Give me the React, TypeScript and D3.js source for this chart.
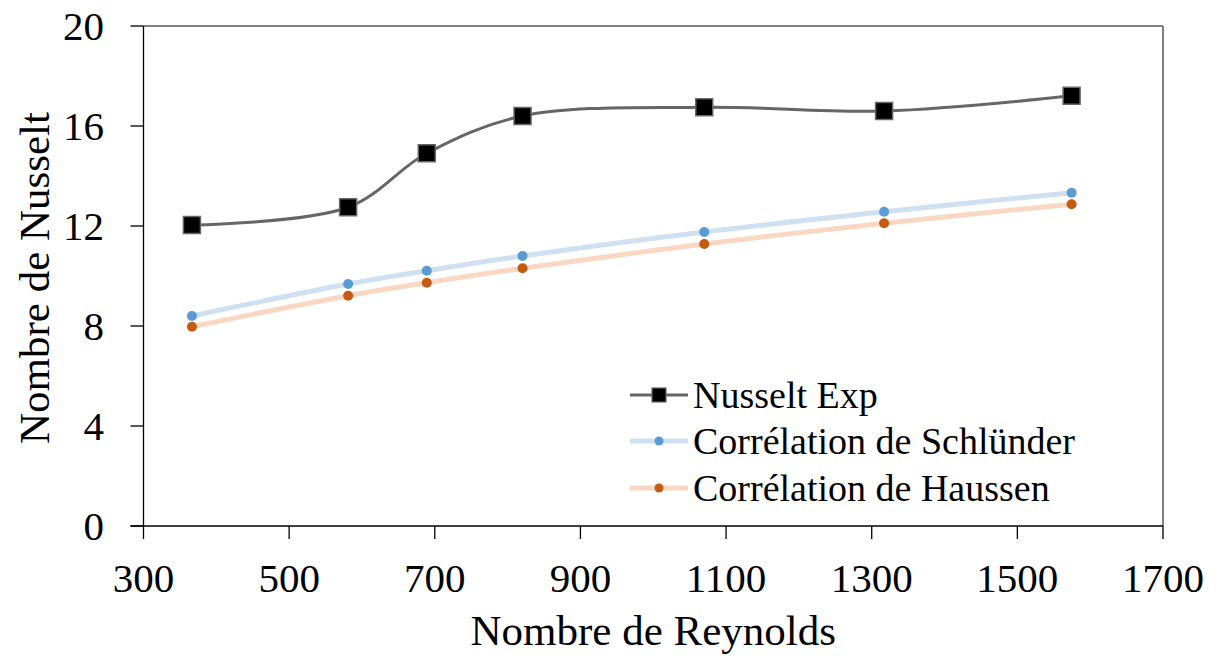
import React from "react";
import * as d3 from "d3";

const reynolds = [366.5, 581, 689, 820.5, 1070, 1317, 1574.5];
const nusseltExp = [12.04, 12.75, 14.91, 16.4, 16.75, 16.6, 17.21];
const schlunder = [8.4, 9.68, 10.21, 10.8, 11.76, 12.57, 13.33];
const haussen = [7.97, 9.21, 9.73, 10.31, 11.28, 12.11, 12.87];
const xTicks = [300, 500, 700, 900, 1100, 1300, 1500, 1700];
const yTicks = [0, 4, 8, 12, 16, 20];
const seriesNames = ["Nusselt Exp", "Corrélation de Schlünder", "Corrélation de Haussen"];

const W = 1220;
const H = 657;
const left = 143.5;
const right = 1163;
const top = 26;
const bottom = 526;
const FONT = "'Liberation Serif', 'Times New Roman', serif";

export default function App() {
  const x = d3.scaleLinear().domain([300, 1700]).range([left, right]);
  const y = d3.scaleLinear().domain([0, 20]).range([bottom, top]);

  const mk = (vals: number[]) =>
    d3
      .line<number>()
      .x((_, i) => x(reynolds[i]))
      .y((v) => y(v))
      .curve(d3.curveCatmullRom.alpha(0.5))(vals) || "";

  const legendX1 = 630;
  const legendX2 = 688;
  const legendMid = 659;
  const legendText = 693;
  const legendRows = [395, 441, 488];

  return (
    <svg
      width={W}
      height={H}
      style={{ position: "absolute", left: 0, top: 0, background: "#fff" }}
      fontFamily={FONT}
    >
      {/* frame */}
      <line x1={left} x2={right} y1={top} y2={top} stroke="#595959" strokeWidth={1.5} />
      <line x1={right} x2={right} y1={top} y2={bottom} stroke="#595959" strokeWidth={1.5} />
      <line x1={left} x2={left} y1={top} y2={bottom} stroke="#000" strokeWidth={1.3} />
      <line x1={left - 13} x2={right} y1={bottom} y2={bottom} stroke="#000" strokeWidth={1.3} />

      {/* y ticks */}
      {yTicks.map((t) => (
        <g key={"y" + t}>
          <line x1={left - 13} x2={left} y1={y(t)} y2={y(t)} stroke="#000" strokeWidth={1.3} />
          <text x={104} y={y(t) + 14} textAnchor="end" fontSize={41} fill="#000">
            {t}
          </text>
        </g>
      ))}
      {/* x ticks */}
      {xTicks.map((t) => (
        <g key={"x" + t}>
          <line x1={x(t)} x2={x(t)} y1={bottom} y2={bottom + 13} stroke="#000" strokeWidth={1.3} />
          <text x={x(t)} y={592} textAnchor="middle" fontSize={41} fill="#000">
            {t}
          </text>
        </g>
      ))}

      {/* axis titles */}
      <text x={(left + right) / 2} y={645} textAnchor="middle" fontSize={43} fill="#000">
        Nombre de Reynolds
      </text>
      <text
        transform={`translate(49, ${(top + bottom) / 2 + 2}) rotate(-90)`}
        textAnchor="middle"
        fontSize={43}
        fill="#000"
      >
        Nombre de Nusselt
      </text>

      {/* series lines */}
      <path d={mk(schlunder)} fill="none" stroke="#CFE0F1" strokeWidth={5} />
      <path d={mk(haussen)} fill="none" stroke="#F9D8C3" strokeWidth={5} />
      <path d={mk(nusseltExp)} fill="none" stroke="#666666" strokeWidth={3} />

      {/* markers */}
      {schlunder.map((v, i) => (
        <circle key={"s" + i} cx={x(reynolds[i])} cy={y(v)} r={5} fill="#5B9BD5" />
      ))}
      {haussen.map((v, i) => (
        <circle key={"h" + i} cx={x(reynolds[i])} cy={y(v)} r={5} fill="#C55A11" />
      ))}
      {nusseltExp.map((v, i) => (
        <rect
          key={"n" + i}
          x={x(reynolds[i]) - 8.5}
          y={y(v) - 8.5}
          width={17}
          height={17}
          fill="#000"
          stroke="#666666"
          strokeWidth={1.5}
        />
      ))}

      {/* legend */}
      <g>
        <line x1={legendX1} x2={legendX2} y1={legendRows[0]} y2={legendRows[0]} stroke="#666666" strokeWidth={3} />
        <rect x={legendMid - 7} y={legendRows[0] - 7} width={14} height={14} fill="#000" stroke="#666666" strokeWidth={1.2} />
        <text x={legendText} y={legendRows[0] + 13} fontSize={38} fill="#000">
          {seriesNames[0]}
        </text>

        <line x1={legendX1} x2={legendX2} y1={legendRows[1]} y2={legendRows[1]} stroke="#CFE0F1" strokeWidth={5} />
        <circle cx={legendMid} cy={legendRows[1]} r={4.5} fill="#5B9BD5" />
        <text x={legendText} y={legendRows[1] + 13} fontSize={38} fill="#000">
          {seriesNames[1]}
        </text>

        <line x1={legendX1} x2={legendX2} y1={legendRows[2]} y2={legendRows[2]} stroke="#F9D8C3" strokeWidth={5} />
        <circle cx={legendMid} cy={legendRows[2]} r={4.5} fill="#C55A11" />
        <text x={legendText} y={legendRows[2] + 13} fontSize={38} fill="#000">
          {seriesNames[2]}
        </text>
      </g>
    </svg>
  );
}
